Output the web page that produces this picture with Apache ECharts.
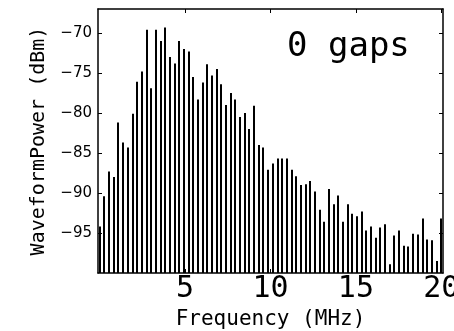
<!DOCTYPE html>
<html>
<head>
<meta charset="utf-8">
<script src="https://cdn.jsdelivr.net/npm/echarts@6/dist/echarts.min.js"></script>
<style>html,body{margin:0;padding:0;background:#fff;}#c{width:454px;height:331px;}</style>
</head>
<body>
<div id="c"></div>
<script>
const freqMHz = [0.00,0.27,0.55,0.82,1.10,1.37,1.64,1.92,2.19,2.47,2.74,3.01,3.29,3.56,3.84,4.11,4.38,4.66,4.93,5.21,5.48,5.75,6.03,6.30,6.58,6.85,7.12,7.40,7.67,7.95,8.22,8.49,8.77,9.04,9.32,9.59,9.86,10.14,10.41,10.68,10.96,11.23,11.51,11.78,12.05,12.33,12.60,12.88,13.15,13.42,13.70,13.97,14.25,14.52,14.79,15.07,15.34,15.62,15.89,16.16,16.44,16.71,16.99,17.26,17.53,17.81,18.08,18.36,18.63,18.90,19.18,19.45,19.73,20.00];
const powerDbm = [-94.2,-90.4,-87.3,-88.0,-81.2,-83.7,-84.3,-80.1,-76.1,-74.8,-69.6,-76.9,-69.6,-71.0,-69.3,-73.0,-73.8,-71.0,-72.0,-72.3,-75.5,-78.3,-76.2,-73.9,-75.3,-74.5,-76.4,-79.0,-77.5,-78.3,-80.5,-80.0,-82.0,-79.1,-84.0,-84.3,-87.1,-86.3,-85.7,-85.7,-85.7,-87.1,-87.9,-89.0,-88.9,-88.5,-89.8,-92.1,-93.6,-89.5,-91.4,-90.3,-93.6,-91.4,-92.6,-92.9,-92.3,-94.7,-94.2,-95.6,-94.3,-93.9,-98.9,-95.3,-94.7,-96.6,-96.7,-95.1,-95.2,-93.2,-95.8,-95.9,-98.5,-93.2];
const xTicks = [5, 10, 15, 20];
const xTickLabels = ['5', '10', '15', '20'];
const yTicks = [-95, -90, -85, -80, -75, -70];
const yTickLabels = ['\u221295', '\u221290', '\u221285', '\u221280', '\u221275', '\u221270'];
const yBase = -100;
const annotation = '0 gaps';

const chart = echarts.init(document.getElementById('c'), null, {renderer: 'canvas'});
const mono = '"DejaVu Sans Mono"';
const lineStyle = {color: '#000', width: 1.5};
const data = freqMHz.map((f, i) => [f, powerDbm[i]]);

function xAxisDef(pos, showLabel) {
  return {
    type: 'value', position: pos, min: -0.1, max: 20.1,
    axisLine: {show: true, onZero: false, lineStyle: lineStyle},
    axisTick: {show: true, inside: true, length: 4, customValues: xTicks, lineStyle: {color: '#000', width: 1}},
    axisLabel: showLabel ? {
      show: true, customValues: xTicks, margin: 1,
      fontSize: 30, fontFamily: mono, color: '#000',
      formatter: v => xTickLabels[xTicks.indexOf(v)]
    } : {show: false},
    splitLine: {show: false},
    name: showLabel ? 'Frequency (MHz)' : '',
    nameLocation: 'middle', nameGap: 30,
    nameTextStyle: {fontSize: 21, fontFamily: mono, color: '#000'}
  };
}
function yAxisDef(pos, showLabel) {
  return {
    type: 'value', position: pos, min: yBase, max: -67,
    axisLine: {show: true, onZero: false, lineStyle: lineStyle},
    axisTick: {show: true, inside: true, length: 4, customValues: yTicks, lineStyle: {color: '#000', width: 1}},
    axisLabel: showLabel ? {
      show: true, customValues: yTicks, margin: 6,
      fontSize: 15, fontFamily: 'DejaVu Sans', color: '#000',
      formatter: v => yTickLabels[yTicks.indexOf(v)]
    } : {show: false},
    splitLine: {show: false},
    name: showLabel ? 'WaveformPower (dBm)' : '',
    nameLocation: 'middle', nameGap: 49,
    nameTextStyle: {fontSize: 20, fontFamily: mono, color: '#000'}
  };
}

chart.setOption({
  animation: false,
  backgroundColor: '#fff',
  grid: {left: 98, right: 11, top: 9, bottom: 58, containLabel: false, outerBoundsMode: 'none'},
  xAxis: [xAxisDef('bottom', true), xAxisDef('top', false)],
  yAxis: [yAxisDef('left', true), yAxisDef('right', false)],
  graphic: [{
    type: 'text', left: 287, top: 30,
    style: {text: annotation, font: '34px "DejaVu Sans Mono"', fill: '#000'}
  }],
  series: [{
    type: 'custom',
    xAxisIndex: 0, yAxisIndex: 0,
    clip: true,
    data: data,
    encode: {x: 0, y: 1},
    renderItem: function (params, api) {
      const top = api.coord([api.value(0), api.value(1)]);
      const bottom = api.coord([api.value(0), yBase]);
      const w = 2;
      const x0 = Math.round(top[0] - w / 2);
      return {
        type: 'rect',
        shape: {x: x0, y: top[1], width: w, height: bottom[1] - top[1]},
        style: {fill: '#000'}
      };
    }
  }]
});
</script>
</body>
</html>
